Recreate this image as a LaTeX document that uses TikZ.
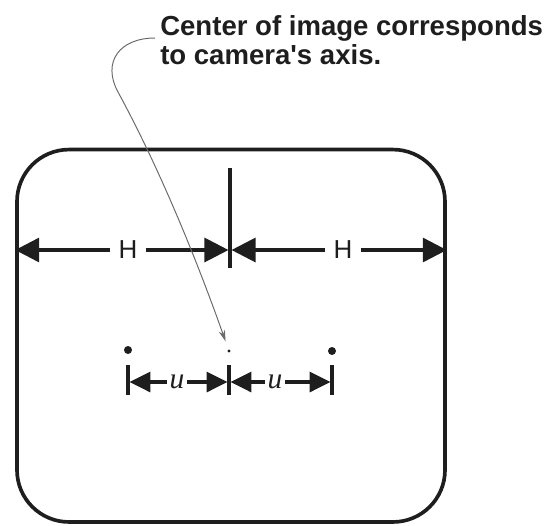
\documentclass[tikz,border=0pt]{standalone}
\usepackage{fontspec}
\newfontfamily\labelfont{Liberation Sans}
\newfontfamily\varfont{Liberation Serif}
\usetikzlibrary{arrows.meta,positioning,calc}
\definecolor{ink}{HTML}{1E1E1E}
\definecolor{leadgrey}{HTML}{6A6A6A}

\begin{document}
\begin{tikzpicture}[
  frame/.style={draw=ink,line width=2.6pt,rounded corners=1.3cm,
                minimum width=10.7cm,minimum height=9.31cm},
  dimarrow/.style={-{Triangle[length=0.6cm,width=0.6cm]},ink,line width=2.2pt},
  uarrow/.style={-{Triangle[length=0.52cm,width=0.5cm]},ink,line width=2.2pt},
  hlabel/.style={font=\labelfont\fontsize{18.5}{20}\selectfont,text=ink,inner xsep=0.2cm,inner ysep=0pt},
  ulabel/.style={font=\varfont\itshape\fontsize{21}{23}\selectfont,text=ink,inner xsep=1.5pt,inner ysep=0pt},
  note/.style={anchor=north west,align=left,inner sep=0pt,text=ink,
               font=\labelfont\bfseries\fontsize{19.6}{20.6}\selectfont},
  marktick/.style={ink,line width=2.2pt},
  spot/.style={circle,fill=ink,inner sep=0pt,minimum size=#1},
  leader/.style={leadgrey,line width=0.7pt,-{Stealth[length=0.28cm,width=0.16cm]}}]
  \useasboundingbox (0,0) rectangle (13.8,-13.125);
  % image frame and optical axis
  \node[frame] (frame) at (5.775,-8.394) {};
  \coordinate (axtop) at (5.75,-4.2);
  \coordinate (axbot) at (5.75,-6.7);
  \draw[marktick] (axtop) -- (axbot);
  % half widths
  \node[hlabel] (hL) at (3.2,-6.25) {H};
  \node[hlabel] (hR) at (8.575,-6.25) {H};
  \draw[dimarrow] (hL) -- (hL -| frame.west);
  \draw[dimarrow,shorten >=1.1pt] (hL) -- (hL -| axtop);
  \draw[dimarrow,shorten >=1.1pt] (hR) -- (hR -| axtop);
  \draw[dimarrow] (hR) -- (hR -| frame.east);
  % image points
  \node[spot=0.2cm] (dotL) at (3.2,-8.75) {};
  \node[spot=0.08cm] (dotC) at (5.725,-8.775) {};
  \node[spot=0.2cm] (dotR) at (8.3,-8.775) {};
  \foreach \x/\n in {3.2/L,5.725/C,8.3/R}{
    \coordinate (tick\n) at (\x,-9.5);
    \draw[marktick] ([yshift=0.375cm]tick\n) -- ([yshift=-0.375cm]tick\n);
  }
  \node[ulabel] (uL) at (4.425,-9.55) {u};
  \node[ulabel] (uR) at (6.875,-9.55) {u};
  \draw[uarrow,shorten >=1.1pt] (uL) -- (uL -| tickL);
  \draw[uarrow,shorten >=1.1pt] (uL) -- (uL -| tickC);
  \draw[uarrow,shorten >=1.1pt] (uR) -- (uR -| tickC);
  \draw[uarrow,shorten >=1.1pt] (uR) -- (uR -| tickR);
  % callout
  \node[note] (note) at (4.0,-0.375) {Center of image corresponds\\to camera's axis.};
  \coordinate (leadstart) at (3.875,-0.95);
  \draw[leader,shorten >=6pt] (leadstart) .. controls (3.0,-0.95) and (2.54,-1.54) .. (2.95,-2.3)
       .. controls (3.867,-3.983) and (4.792,-6.142) .. (dotC);
\end{tikzpicture}
\end{document}
